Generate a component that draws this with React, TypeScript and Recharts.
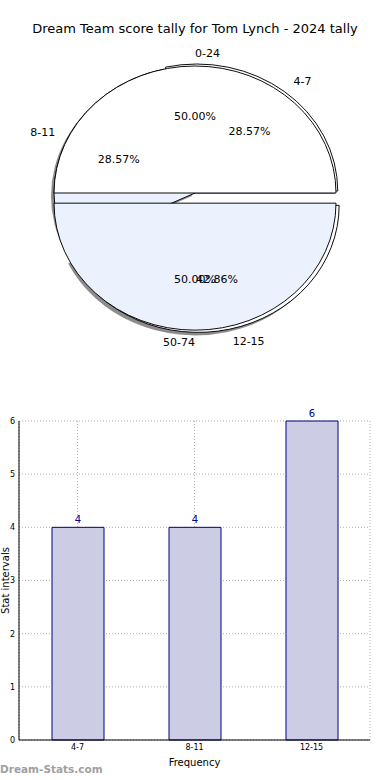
import { PieChart, Pie, Cell, BarChart, Bar, XAxis, YAxis, CartesianGrid, LabelList } from "recharts";

const TITLE = "Dream Team score tally for Tom Lynch - 2024 tally";

// outer pie: score bands
const OUTER_NAMES = ["0-24", "50-74"];
const OUTER_VALUES = [50, 50];
// inner pie: stat intervals
const INNER_NAMES = ["4-7", "8-11", "12-15"];
const INNER_VALUES = [4, 4, 6];

// bar chart
const BAR_CATEGORIES = ["4-7", "8-11", "12-15"];
const BAR_VALUES = [4, 4, 6];
const Y_TICKS = [0, 1, 2, 3, 4, 5, 6];

// pie styling
const OUTER_COLORS = ["#ffffff", "#ebf1fd"];
const INNER_COLORS = ["#ffffff", "#ebf1fd", "#ffffff"];
const OUTER_EXPLODE = [0, 0.08];
const INNER_EXPLODE = [0.02, 0, 0.1];

const CX = 195;
const CY = 193;
const RX = 141;
const RY = 127;
const FONT = "'DejaVu Sans', Verdana, sans-serif";

const outerData = OUTER_NAMES.map((name, i) => ({ name, value: OUTER_VALUES[i] }));
const innerData = INNER_NAMES.map((name, i) => ({ name, value: INNER_VALUES[i] }));
const barData = BAR_CATEGORIES.map((cat, i) => ({ cat, value: BAR_VALUES[i] }));

function offsets(values: number[], explode: number[]) {
  const total = values.reduce((a, b) => a + b, 0);
  let acc = 0;
  return values.map((v, i) => {
    const mid = ((acc + v / 2) / total) * 2 * Math.PI;
    acc += v;
    return { dx: explode[i] * RX * Math.cos(mid), dy: -explode[i] * RY * Math.sin(mid) };
  });
}

const outerOff = offsets(OUTER_VALUES, OUTER_EXPLODE);
const innerOff = offsets(INNER_VALUES, INNER_EXPLODE);

// squash the circle into the ellipse matplotlib drew, plus explode shift
function tf(o: { dx: number; dy: number }, sx = 0, sy = 0) {
  return `translate(${CX + o.dx + sx} ${CY + o.dy + sy}) scale(1 ${RY / RX}) translate(${-CX} ${-CY})`;
}

function makeLabel(names: string[], offs: { dx: number; dy: number }[]) {
  return (p: any) => {
    const i = p.index ?? names.indexOf(p.name);
    const a = (p.midAngle * Math.PI) / 180;
    const c = Math.cos(a);
    const s = Math.sin(a);
    const o = offs[i];
    return (
      <g key={`lbl-${names[i]}`}>
        <text x={CX + o.dx + 0.6 * RX * c} y={CY + o.dy - 0.6 * RY * s} textAnchor="middle" dominantBaseline="central" fontSize={11} fill="#000" fontFamily={FONT}>
          {(p.percent * 100).toFixed(2)}%
        </text>
        <text x={CX + o.dx + 1.1 * RX * c} y={CY + o.dy - 1.1 * RY * s} textAnchor={c > 0 ? "start" : "end"} dominantBaseline="central" fontSize={11} fill="#000" fontFamily={FONT}>
          {names[i]}
        </text>
      </g>
    );
  };
}

export default function App() {
  return (
    <div style={{ position: "absolute", left: 0, top: 0, width: 390, height: 780, background: "#fff", fontFamily: FONT }}>
      <div style={{ position: "absolute", top: 21, left: 0, width: 390, textAlign: "center", fontSize: 13, color: "#000" }}>{TITLE}</div>

      <div style={{ position: "absolute", top: 0, left: 0 }}>
        <PieChart width={390} height={380} margin={{ top: 0, right: 0, bottom: 0, left: 0 }}>
          {/* shadow */}
          <Pie data={innerData} dataKey="value" nameKey="name" cx={CX} cy={CY} outerRadius={RX} startAngle={0} endAngle={360} stroke="none" label={false} labelLine={false} isAnimationActive={false}>
            {innerData.map((d, i) => (
              <Cell key={d.name} fill="#000" fillOpacity={0.45} transform={tf(innerOff[i], -3, 3)} />
            ))}
          </Pie>
          <Pie data={innerData} dataKey="value" nameKey="name" cx={CX} cy={CY} outerRadius={RX} startAngle={0} endAngle={360} stroke="#000" strokeWidth={1} label={false} labelLine={false} isAnimationActive={false}>
            {innerData.map((d, i) => (
              <Cell key={d.name} fill={INNER_COLORS[i]} transform={tf(innerOff[i])} />
            ))}
          </Pie>
          <Pie data={outerData} dataKey="value" nameKey="name" cx={CX} cy={CY} outerRadius={RX} startAngle={0} endAngle={360} stroke="#000" strokeWidth={1} label={makeLabel(OUTER_NAMES, outerOff)} labelLine={false} isAnimationActive={false}>
            {outerData.map((d, i) => (
              <Cell key={d.name} fill={OUTER_COLORS[i]} transform={tf(outerOff[i])} />
            ))}
          </Pie>
          {/* inner labels on top */}
          <Pie data={innerData} dataKey="value" nameKey="name" cx={CX} cy={CY} outerRadius={RX} startAngle={0} endAngle={360} fill="none" stroke="none" label={makeLabel(INNER_NAMES, innerOff)} labelLine={false} isAnimationActive={false} />
        </PieChart>
      </div>

      <div style={{ position: "absolute", top: 400, left: 0 }}>
        <BarChart width={390} height={380} data={barData} margin={{ top: 21, right: 20, bottom: 0, left: 0 }}>
          <CartesianGrid stroke="#b0b0b0" strokeDasharray="1 2" />
          <XAxis dataKey="cat" height={40} tickLine={false} axisLine={{ stroke: "#000" }} tick={{ fontSize: 8, fill: "#000", fontFamily: FONT }} tickSize={3} tickMargin={1} label={{ value: "Frequency", position: "insideBottom", offset: 14, fontSize: 10, fill: "#000", fontFamily: FONT }} />
          <XAxis xAxisId="top" dataKey="cat" orientation="top" height={0} tick={false} tickLine={false} axisLine={{ stroke: "#000" }} />
          <YAxis width={19} domain={[0, 6]} ticks={Y_TICKS} tickLine={false} axisLine={{ stroke: "#000" }} tick={{ fontSize: 8, fill: "#000", fontFamily: FONT }} tickSize={3} tickMargin={1} label={{ value: "Stat intervals", angle: -90, position: "center", dx: -4, fontSize: 10, fill: "#000", fontFamily: FONT }} />
          <YAxis yAxisId="right" orientation="right" width={0} domain={[0, 6]} tick={false} tickLine={false} axisLine={{ stroke: "#000" }} />
          <Bar dataKey="value" barSize={52} fill="#ccccE4" stroke="#000080" strokeWidth={1} isAnimationActive={false}>
            <LabelList dataKey="value" position="top" offset={4} fontSize={10} fill="#00008b" fontFamily={FONT} />
          </Bar>
        </BarChart>
      </div>

      <div style={{ position: "absolute", left: 0, top: 763, fontSize: 10.5, fontWeight: "bold", color: "#a0a0a0" }}>Dream-Stats.com</div>
    </div>
  );
}
